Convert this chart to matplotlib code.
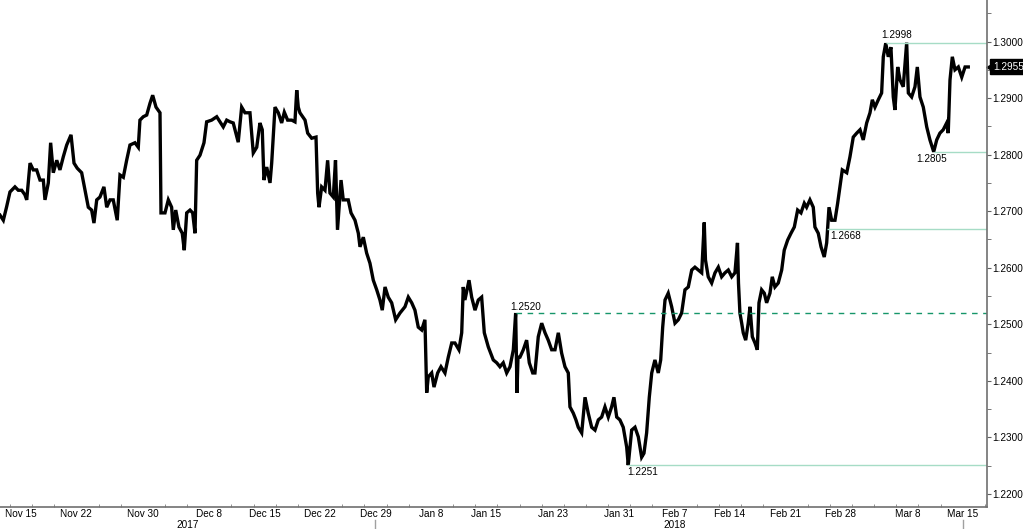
import numpy as np
import matplotlib.pyplot as plt
import matplotlib.transforms as mtransforms

plt.rcParams['font.family'] = ['Liberation Sans', 'DejaVu Sans']

# trading days since Mon 13 Nov 2017 (1 Jan excluded) and price
t_days = [0.11, 0.41, 0.71, 1.01, 1.46, 1.76, 2.07, 2.36, 2.52, 2.82, 3.11, 3.42, 3.72, 4.02, 4.17,
          4.47, 4.68, 4.92, 5.23, 5.52, 5.82, 6.13, 6.52, 6.79, 7.08, 7.48, 7.78, 8.08, 8.38, 8.59,
          8.84, 9.13, 9.49, 9.74, 10.04, 10.33, 10.69, 10.94, 11.24, 11.54, 11.84, 12.29, 12.59,
          12.74, 13.04, 13.35, 13.65, 13.89, 14.19, 14.55, 14.64, 15.00, 15.30, 15.60, 15.75, 15.97,
          16.26, 16.56, 16.74, 16.96, 17.26, 17.50, 17.71, 17.86, 18.16, 18.52, 18.76, 19.21, 19.67,
          19.96, 20.26, 20.57, 20.87, 21.16, 21.61, 21.92, 22.22, 22.67, 22.97, 23.28, 23.57, 23.78,
          23.93, 24.18, 24.48, 24.63, 24.93, 25.23, 25.53, 25.77, 26.07, 26.44, 26.73, 26.89, 27.03,
          27.18, 27.64, 27.88, 28.24, 28.63, 28.78, 28.90, 29.14, 29.44, 29.68, 29.89, 30.19, 30.39,
          30.57, 30.89, 31.09, 31.54, 31.79, 32.15, 32.45, 32.60, 32.90, 33.20, 33.50, 33.80, 34.11,
          34.40, 34.61, 34.86, 35.15, 35.46, 35.82, 36.21, 36.66, 36.96, 37.27, 37.56, 37.86, 38.17,
          38.46, 38.62, 38.76, 39.07, 39.28, 39.61, 39.91, 40.27, 40.57, 40.88, 41.17, 41.53, 41.78,
          41.92, 42.07, 42.44, 42.68, 42.98, 43.28, 43.58, 43.82, 44.18, 44.63, 44.94, 45.23, 45.53,
          45.84, 46.14, 46.44, 46.65, 46.77, 46.86, 47.04, 47.34, 47.64, 47.88, 48.19, 48.39, 48.69,
          49.00, 49.30, 49.59, 49.90, 50.20, 50.50, 50.80, 51.10, 51.40, 51.55, 51.85, 52.09, 52.30,
          52.61, 52.91, 53.20, 53.51, 53.81, 54.11, 54.41, 54.71, 55.01, 55.31, 55.52, 55.77, 56.06,
          56.36, 56.67, 56.81, 57.12, 57.42, 57.72, 58.02, 58.23, 58.47, 58.71, 58.93, 59.22, 59.52,
          59.74, 59.92, 60.13, 60.42, 60.73, 61.03, 61.33, 61.63, 61.93, 62.23, 62.54, 62.83, 63.13,
          63.44, 63.67, 63.78, 64.03, 64.34, 64.64, 64.94, 65.24, 65.54, 65.84, 66.15, 66.44, 66.67,
          66.76, 66.89, 67.05, 67.19, 67.41, 67.64, 67.80, 68.01, 68.25, 68.46, 68.61, 68.85, 69.09,
          69.30, 69.60, 69.81, 70.05, 70.35, 70.66, 70.89, 71.20, 71.50, 71.80, 72.10, 72.40, 72.70,
          72.91, 73.21, 73.51, 73.66, 73.96, 74.21, 74.50, 74.72, 74.93, 75.17, 75.47, 75.71, 75.92,
          76.13, 76.53, 76.82, 77.12, 77.43, 77.73, 78.02, 78.33, 78.63, 78.84, 79.08, 79.38, 79.68,
          79.83, 80.05, 80.28, 80.52, 80.73, 80.88, 81.13, 81.34, 81.63, 81.94, 82.09, 82.39, 82.69,
          82.90, 83.14, 83.44, 83.75, 84.04, 84.38, 84.65, 84.94, 85.24, 85.55, 85.69, 85.85, 86.06,
          86.30, 86.60, 86.91, 87.21, 87.50]
price = [1.2693, 1.2684, 1.2708, 1.2734, 1.2743, 1.2737, 1.2737, 1.2729, 1.2720, 1.2785, 1.2773,
         1.2773, 1.2755, 1.2755, 1.2720, 1.2750, 1.2821, 1.2768, 1.2790, 1.2773, 1.2796, 1.2817,
         1.2835, 1.2785, 1.2776, 1.2768, 1.2737, 1.2707, 1.2702, 1.2679, 1.2720, 1.2725, 1.2743,
         1.2707, 1.2720, 1.2720, 1.2684, 1.2764, 1.2760, 1.2790, 1.2817, 1.2821, 1.2813, 1.2861,
         1.2867, 1.2870, 1.2891, 1.2905, 1.2884, 1.2874, 1.2697, 1.2697, 1.2720, 1.2707, 1.2667,
         1.2702, 1.2672, 1.2661, 1.2631, 1.2697, 1.2702, 1.2697, 1.2661, 1.2790, 1.2799, 1.2821,
         1.2858, 1.2861, 1.2867, 1.2858, 1.2849, 1.2861, 1.2858, 1.2856, 1.2822, 1.2884, 1.2874,
         1.2874, 1.2803, 1.2813, 1.2856, 1.2844, 1.2755, 1.2778, 1.2750, 1.2785, 1.2884, 1.2874,
         1.2856, 1.2875, 1.2861, 1.2861, 1.2858, 1.2914, 1.2884, 1.2874, 1.2861, 1.2838, 1.2829,
         1.2831, 1.2732, 1.2707, 1.2743, 1.2737, 1.2790, 1.2732, 1.2725, 1.2790, 1.2667, 1.2755,
         1.2720, 1.2720, 1.2697, 1.2684, 1.2661, 1.2637, 1.2654, 1.2626, 1.2608, 1.2578, 1.2561,
         1.2543, 1.2525, 1.2566, 1.2548, 1.2538, 1.2508, 1.2520, 1.2531, 1.2548, 1.2538, 1.2525,
         1.2495, 1.2490, 1.2508, 1.2379, 1.2407, 1.2414, 1.2389, 1.2414, 1.2425, 1.2414, 1.2442,
         1.2467, 1.2467, 1.2455, 1.2485, 1.2566, 1.2543, 1.2578, 1.2548, 1.2525, 1.2543, 1.2548,
         1.2485, 1.2460, 1.2437, 1.2432, 1.2425, 1.2432, 1.2414, 1.2425, 1.2455, 1.2520, 1.2379,
         1.2442, 1.2442, 1.2455, 1.2472, 1.2432, 1.2414, 1.2414, 1.2478, 1.2502, 1.2485, 1.2472,
         1.2455, 1.2455, 1.2485, 1.2449, 1.2425, 1.2414, 1.2354, 1.2343, 1.2331, 1.2318, 1.2308,
         1.2371, 1.2343, 1.2318, 1.2313, 1.2331, 1.2336, 1.2354, 1.2336, 1.2354, 1.2371, 1.2336,
         1.2331, 1.2318, 1.2283, 1.2251, 1.2313, 1.2318, 1.2301, 1.2265, 1.2272, 1.2308, 1.2371,
         1.2414, 1.2437, 1.2414, 1.2437, 1.2495, 1.2543, 1.2555, 1.2531, 1.2502, 1.2508, 1.2520,
         1.2561, 1.2566, 1.2596, 1.2601, 1.2596, 1.2591, 1.2680, 1.2614, 1.2584, 1.2573, 1.2591,
         1.2601, 1.2584, 1.2591, 1.2596, 1.2584, 1.2591, 1.2644, 1.2573, 1.2520, 1.2502, 1.2485,
         1.2472, 1.2502, 1.2531, 1.2478, 1.2467, 1.2455, 1.2538, 1.2561, 1.2555, 1.2538, 1.2555,
         1.2584, 1.2566, 1.2573, 1.2596, 1.2631, 1.2649, 1.2661, 1.2672, 1.2702, 1.2697, 1.2714,
         1.2707, 1.2720, 1.2707, 1.2672, 1.2661, 1.2637, 1.2619, 1.2644, 1.2707, 1.2684, 1.2684,
         1.2714, 1.2743, 1.2773, 1.2768, 1.2796, 1.2831, 1.2838, 1.2844, 1.2826, 1.2856, 1.2874,
         1.2897, 1.2884, 1.2897, 1.2909, 1.2973, 1.2997, 1.2973, 1.2990, 1.2902, 1.2879, 1.2955,
         1.2932, 1.2920, 1.2998, 1.2909, 1.2902, 1.2920, 1.2955, 1.2902, 1.2884, 1.2849, 1.2826,
         1.2805, 1.2826, 1.2838, 1.2844, 1.2856, 1.2838, 1.2932, 1.2973, 1.2950, 1.2955, 1.2937,
         1.2955, 1.2955]

start_day = '2017-11-13'
holidays = ['2018-01-01']
tick_dates = ['2017-11-15', '2017-11-22', '2017-11-30', '2017-12-08', '2017-12-15', '2017-12-22',
              '2017-12-29', '2018-01-08', '2018-01-15', '2018-01-23', '2018-01-31', '2018-02-07',
              '2018-02-14', '2018-02-21', '2018-02-28', '2018-03-08', '2018-03-15']
tick_labels = ['Nov 15', 'Nov 22', 'Nov 30', 'Dec 8', 'Dec 15', 'Dec 22', 'Dec 29', 'Jan 8',
               'Jan 15', 'Jan 23', 'Jan 31', 'Feb 7', 'Feb 14', 'Feb 21', 'Feb 28', 'Mar 8', 'Mar 15']

# support / resistance levels and the day they were set
levels = [1.2998, 1.2805, 1.2668, 1.2251]
level_day = [80.05, 84.38, 74.72, 56.81]
dashed_level = 1.2520
dashed_day = 46.65
last_price = 1.2955

x_min, x_max = 0.11, 89.19
y_min, y_max = 1.2177, 1.30734

fig = plt.figure(figsize=(10.23, 5.29), dpi=100)
ax = fig.add_axes([0, 22 / 529, 987 / 1023, 507 / 529])
ax.set_xlim(x_min, x_max)
ax.set_ylim(y_min, y_max)

ax.plot(t_days, price, color='black', lw=2.4, solid_joinstyle='miter')

# level lines
mint = '#a6dcc6'
ax.hlines(levels, level_day, x_max, colors=mint, lw=1.0)
ax.hlines(dashed_level, dashed_day, x_max, colors='#16966a', lw=1.0, linestyles=(0, (4, 4)))

lab = dict(fontsize=7.2, color='black', textcoords='offset pixels', annotation_clip=False)
ax.annotate('%.4f' % levels[0], (level_day[0], levels[0]), xytext=(-4, 8), ha='left', va='center', **lab)
ax.annotate('%.4f' % levels[1], (level_day[1], levels[1]), xytext=(-17, -7), ha='left', va='center', **lab)
ax.annotate('%.4f' % levels[2], (level_day[2], levels[2]), xytext=(4, -7), ha='left', va='center', **lab)
ax.annotate('%.4f' % levels[3], (level_day[3], levels[3]), xytext=(-1, -7), ha='left', va='center', **lab)
ax.annotate('%.4f' % dashed_level, (dashed_day, dashed_level), xytext=(-5, 6), ha='left', va='center', **lab)

# x axis: trading-day scale
tick_pos = np.busday_count(start_day, tick_dates, holidays=holidays)
ax.set_xticks(tick_pos)
ax.set_xticklabels(tick_labels)
ax.set_xticks(np.arange(1, 90, 2), minor=True)
ax.tick_params(axis='x', which='major', length=0, pad=1.5, labelsize=7.2)
ax.tick_params(axis='x', which='minor', direction='in', length=2.5, color='#808080')

# year labels and dividers under the axis
tr = mtransforms.blended_transform_factory(ax.transData, ax.transAxes)
for d in [tick_pos[6], tick_pos[-1]]:
    ax.plot([d, d], [-13 / 507, -22 / 507], color='#a0a0a0', lw=1, transform=tr, clip_on=False)
ax.text(17, -17.5 / 507, '2017', transform=tr, ha='center', va='center', fontsize=7.2)
ax.text(tick_pos[11], -17.5 / 507, '2018', transform=tr, ha='center', va='center', fontsize=7.2)

# y axis on the right
ax.yaxis.tick_right()
ax.set_yticks(np.arange(1.22, 1.3001, 0.01))
ax.set_yticks(np.arange(1.225, 1.306, 0.01), minor=True)
ax.yaxis.set_major_formatter(plt.FormatStrFormatter('%.4f'))
ax.tick_params(axis='y', which='both', direction='out', length=3, color='#606060', labelsize=7.2, pad=1)

for s in ['left', 'top']:
    ax.spines[s].set_visible(False)
for s in ['right', 'bottom']:
    ax.spines[s].set_color('#707070')
    ax.spines[s].set_linewidth(1.2)

# last price tag
tr2 = mtransforms.blended_transform_factory(ax.transAxes, ax.transData)
ax.plot([1.004], [last_price], marker='<', ms=7, color='black', transform=tr2, clip_on=False)
ax.text(1.006, last_price, '%.4f' % last_price, transform=tr2, ha='left', va='center', fontsize=7.2,
        color='white', bbox=dict(boxstyle='square,pad=0.25', fc='black', ec='black'))

fig.savefig('out.png', dpi=100)
